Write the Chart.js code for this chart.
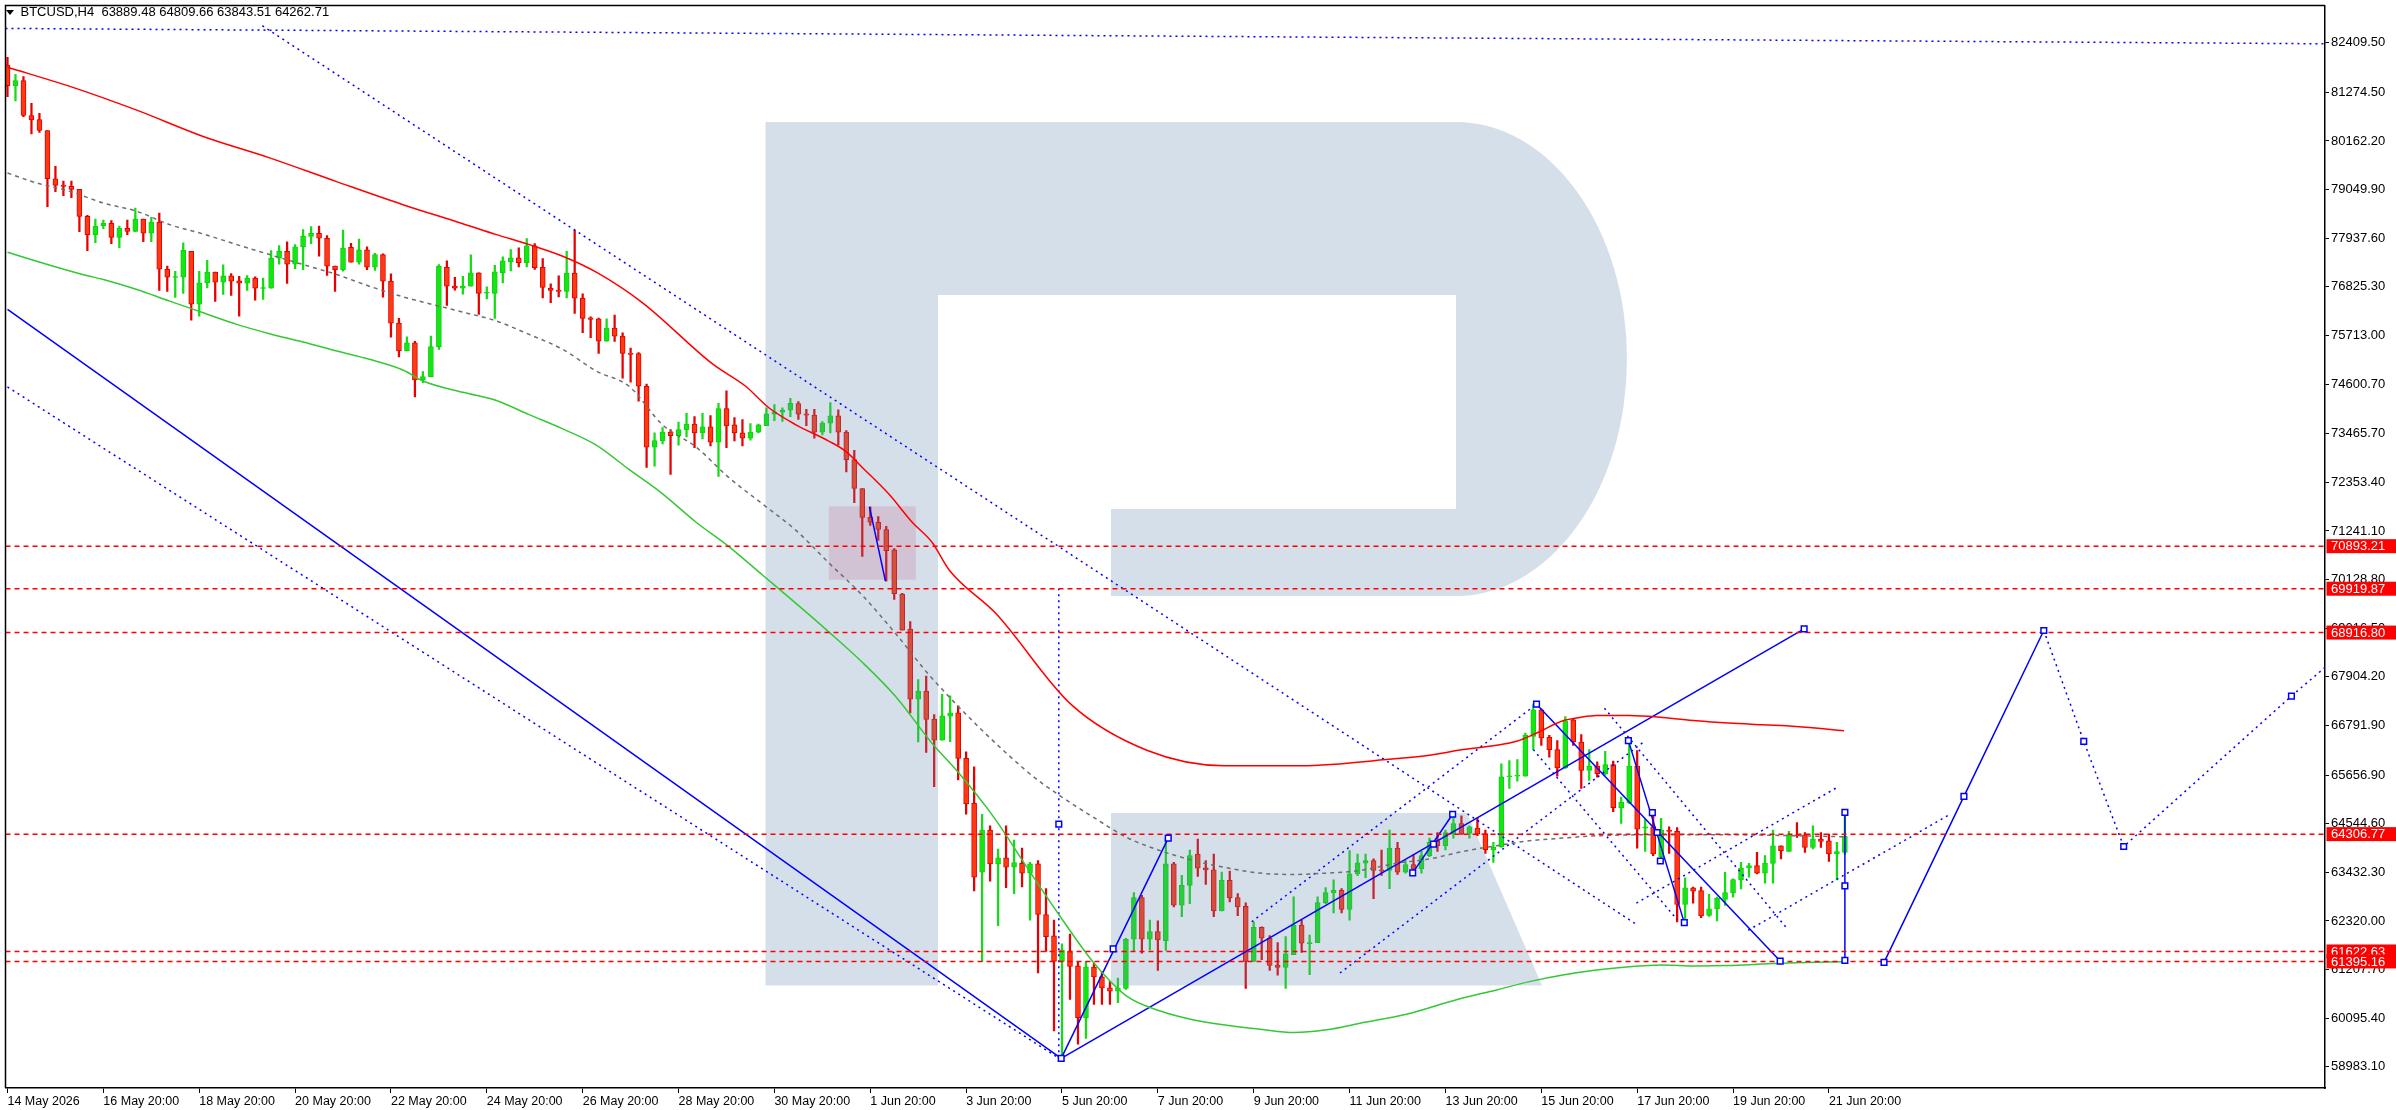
<!DOCTYPE html>
<html>
<head>
<meta charset="utf-8">
<script src="https://cdn.jsdelivr.net/npm/chart.js@4.4.1/dist/chart.umd.min.js"></script>
<style>
html, body { margin: 0; padding: 0; background: #fff; overflow: hidden; }
canvas { display: block; }
</style>
</head>
<body>
<canvas id="grafico_btc" width="2396" height="1110"></canvas>
<script>
// BTCUSD H4 candles, index 0 = 14 May 2026
var opens = [81899,81427,81541,80743,80651,80400,79297,79153,79122,79054,78438,78019,78225,78278,77958,78164,78095,78377,78050,78301,
77228,77038,77045,77639,76429,76916,77160,76931,77076,76962,76909,77023,76787,76794,77479,77639,77342,77738,77981,78050,
77936,77297,77220,77730,77388,77669,77274,77563,76954,75996,75357,75547,74695,74771,75456,77274,76840,76794,76840,77145,
76681,76673,77145,77396,77487,77380,77761,77274,76795,76749,76719,77137,76566,76118,76095,75585,75882,75699,75311,75296,
74551,73159,73298,73502,73419,73558,73688,73484,73623,73270,74041,73669,73484,73363,73502,73651,73911,73957,74004,74152,
73920,73892,73502,73706,73874,73502,72871,72212,71552,71441,71274,70810,69798,68999,67393,67579,66936,66457,67005,67081,
66039,65010,63437,64398,63626,63762,63551,63641,63415,63626,62469,61978,61395,61622,61297,60110,61267,61040,60790,60715,
60775,61902,62855,61902,62076,61872,63626,62681,63135,63853,63536,63490,62552,63248,62855,62658,61395,62174,61925,61312,
61259,61547,62227,61804,61826,62741,62961,63021,62583,63399,63641,63702,63490,63475,63989,63435,63609,63511,63814,64155,
64041,64307,64550,64322,64444,64322,63943,64019,65619,65634,65634,66543,67150,66521,66240,65823,66923,66415,65763,65861,
65687,65899,64913,65027,65861,64444,64474,63791,64398,64368,62700,63079,63018,62449,62601,62813,62964,63260,63533,63586,
63412,63639,64041,63912,64292,64292,64004,64193,64155,63852,63889.48];
var highs = [82074,81686,81633,81024,80796,80400,79579,79244,79244,79054,78460,78377,78354,78339,78217,78354,78628,78377,78415,78514,
77297,77182,77829,77639,77182,77433,77160,77327,77129,77068,77084,77053,77023,77654,77768,77852,77791,78133,78202,78217,
77996,77297,78126,77821,77920,77738,77593,77578,77122,76102,75684,75577,74885,75699,77335,77418,77045,77068,77555,77145,
76825,77319,77510,77677,77715,77928,77814,77472,76893,77076,77639,78118,76665,76140,76110,76095,76178,75775,75425,75320,
74598,73484,73604,73558,73734,73929,73855,73929,73883,74161,74449,73836,73790,73697,73688,74059,74134,74059,74273,74199,
74022,74022,73744,74180,74013,73539,73084,72212,71794,71571,71348,70838,69816,69166,67839,67922,67043,67507,67469,67241,
66190,65848,64761,64496,63967,64496,64171,63989,63664,63702,63059,62341,61796,62023,61395,61395,61357,61168,60941,61017,
61925,62968,62908,62341,62326,64194,63664,63362,63944,64194,63702,63853,63437,63460,62946,62734,62303,62189,61985,61826,
61962,62870,62341,62000,62870,63082,63263,63059,63929,63853,63853,63740,63944,64398,64118,63700,63837,63912,64216,64345,
64398,64800,64724,64497,64671,64398,64117,65914,65990,66013,66619,67279,67173,66566,66445,66998,66945,66581,66240,65960,
66202,65975,65156,66430,66217,64648,64724,64671,64474,64458,63306,63094,63094,62927,62866,63434,63283,63662,63639,63889,
63814,64398,64041,64368,64572,64345,64497,64345,64307,64117,64809.66];
var lows = [81176,81077,80720,80324,80355,78658,79000,78909,78864,78088,77654,77837,78156,77814,77723,78019,78088,77859,77859,76741,
76718,76581,76673,76064,76155,76802,76490,76650,76627,76155,76741,76521,76536,76794,77342,76901,77243,77220,77814,77525,
77084,76718,77182,77388,77342,77220,77198,76589,75676,75220,75357,74307,74634,74771,75395,76399,76749,76658,76840,76194,
76551,76102,76916,77190,77281,77281,77221,76574,76460,76597,76574,76216,75775,75661,75304,75585,75577,74737,74644,74208,
72694,72722,73233,72537,73205,73391,73149,73344,73187,72490,73149,73298,73187,73316,73484,73651,73762,73744,73855,73790,
73651,73363,73437,73484,73205,72592,71887,70661,71367,71023,70095,69677,68971,67077,66418,66177,65392,66457,66419,65544,
64761,63006,61395,63233,62212,63082,62946,63097,62341,61131,61622,59807,59225,60526,59505,59633,60412,60412,60412,60450,
60752,61622,61584,61660,61191,61645,62643,62416,62719,63339,63158,62416,62552,62757,62439,60775,61395,61433,61191,61078,
60775,61547,61600,61093,61826,62719,62507,62507,62341,63354,63309,62832,63362,63059,63384,63412,63488,63412,63791,63912,
63943,64216,64292,64216,64269,63867,63662,64004,65353,65520,65634,66240,66338,66066,65634,65808,66338,65353,65535,65611,
65656,64822,64550,65004,63988,63912,63814,63738,63867,62297,62351,62730,62396,62426,62320,62677,62866,63056,63321,63396,
63184,63184,63738,63912,64231,63889,63966,64004,63685,63260,63843.51];
var closes = [81427,81541,80743,80644,80400,79297,79145,79122,79054,78438,78019,78209,78278,77958,78164,78095,78377,78050,78301,77228,
77045,77053,77662,76429,76916,77160,76931,77076,76954,76909,77023,76794,76802,77479,77639,77342,77738,77981,78050,77936,
77297,77220,77707,77388,77669,77274,77563,76954,75996,75357,75547,74695,74771,75456,77297,76840,76794,76840,77144,76673,
76696,77167,77418,77487,77380,77761,77266,76810,76741,76719,77137,76566,76102,76080,75585,75882,75699,75304,75281,74551,
73159,73307,73502,73419,73558,73688,73484,73623,73270,74041,73641,73484,73363,73502,73669,73920,73966,74004,74161,73911,
73892,73502,73706,73874,73502,72871,72212,71552,71441,71274,70791,69807,68971,67393,67579,66929,66457,67012,67081,66039,
64996,63324,64398,63626,63762,63551,63657,63415,63626,62469,61962,61395,61660,61282,60110,61267,61040,60790,60715,60790,
61902,62855,61902,62076,61887,63626,62681,63135,63815,63528,63490,62552,63248,62847,62643,61395,62174,61925,61305,61259,
61569,62227,61811,61819,62741,62968,63021,62583,63399,63649,63702,63475,63468,63989,63437,63609,63511,63814,64117,64041,
64345,64550,64307,64474,64307,63951,64004,65619,65641,65649,66566,67150,66505,66240,65823,66900,66415,65763,65861,65687,
65899,64913,65042,65861,64420,64474,63852,64398,64368,62700,63079,63003,62434,62601,62843,62972,63268,63533,63586,63412,
63647,64041,63928,64292,64269,64004,64193,64140,63852,63905,64262.71];

// x axis labels, one every 12 candles
var dateLabels = ["14 May 2026","16 May 20:00","18 May 20:00","20 May 20:00","22 May 20:00","24 May 20:00","26 May 20:00",
"28 May 20:00","30 May 20:00","1 Jun 20:00","3 Jun 20:00","5 Jun 20:00","7 Jun 20:00","9 Jun 20:00","11 Jun 20:00",
"13 Jun 20:00","15 Jun 20:00","17 Jun 20:00","19 Jun 20:00","21 Jun 20:00"];
var priceTicks = [82409.50,81274.50,80162.20,79049.90,77937.60,76825.30,75713.00,74600.70,73465.70,72353.40,71241.10,
70128.80,69016.50,67904.20,66791.90,65656.90,64544.60,63432.30,62320.00,61207.70,60095.40,58983.10];
var levels = [70893.21,69919.87,68916.80,64306.77,61622.63,61395.16];

// moving averages [candle index, price]
var maRed = [[0,81846],[7.9,81405],[16.1,80872],[24.5,80264],[32.9,79769],[41.1,79237],[49.5,78704],[57,78270],[61.2,78019],
[65.3,77791],[69.5,77525],[73.7,77160],[79.5,76460],[88.25,75062],[92.4,74551],[95.3,74059],[98.7,73669],[102.8,73298],
[104.9,73066],[107,72694],[110.3,72091],[113.25,71441],[115.75,70977],[117.9,70343],[123.7,69358],[133.2,67263],[142.7,66220],
[152.3,65872],[161.9,65872],[173.9,66035],[178,66111],[182.2,66240],[186.4,66339],[188.9,66430],[191.4,66619],[194.7,66900],
[196.8,66976],[198.9,67021],[203,67021],[207.2,66976],[211.4,66900],[215.5,66847],[219.7,66809],[223.9,66771],[229.9,66672]];
var maGreen = [[0,77616],[5.75,77297],[9.9,77084],[12,76993],[16.2,76764],[20.3,76498],[24.5,76232],[28.7,75966],[32.8,75753],
[37,75563],[41.2,75357],[45.3,75167],[49.5,74923],[52,74672],[57,74412],[61.2,74226],[65.3,73901],[69.5,73576],[73.7,73205],
[77.8,72648],[82,72091],[86.2,71441],[90.3,70884],[94.5,70234],[98.7,69584],[102.8,68934],[107,68238],[111.2,67449],
[115.75,66381],[118.9,65744],[123.5,64685],[127.6,63551],[131.8,62416],[136,61357],[140.1,60601],[144.3,60261],[148.5,60057],
[152.6,59936],[156.8,59845],[161,59769],[165.1,59830],[169.3,59981],[175.1,60185],[181.6,60531],[186.4,60743],[190.5,60933],
[194.7,61084],[198.9,61198],[203,61274],[207.2,61312],[211.4,61289],[215.5,61300],[219.7,61335],[223.9,61365],[229.9,61388]];
var maGray = [[0,79427],[3.7,79198],[7.8,79008],[12,78742],[16.2,78552],[20.3,78248],[24.5,78034],[28.7,77791],[32.8,77563],
[37,77335],[41.2,77107],[45.3,76840],[49.5,76597],[57,76247],[61.2,76042],[65.3,75737],[69.5,75395],[73.7,74900],[77.8,74551],
[82,73669],[86.2,73159],[90.3,72462],[94.5,71859],[98.7,71255],[102.8,70513],[107,69770],[111.2,68888],[115.75,67867],
[127.6,65744],[131.8,65177],[136,64685],[140.1,64231],[144.3,63929],[148.5,63702],[152.6,63536],[156.8,63415],[161,63384],
[165.1,63415],[169.3,63475],[173.9,63640],[178,63738],[182.2,63912],[186.4,64042],[190.5,64155],[194.7,64216],[198.9,64269],
[207.2,64292],[215.5,64292],[223.9,64269],[229.9,64246]];

// drawn objects [candle index, price]
var trendSolid = [
  [[0,76308],[131.9,59179]],
  [[131.9,59179],[145.3,64216]],
  [[131.9,59179],[224.9,69000]],
  [[191.4,67279],[221.9,61403]],
  [[202.9,66445],[209.9,62283]],
  [[230,61418],[230,64805]],
  [[107.9,71794],[109.9,70095]],
  [[175.9,63420],[180.9,64762]],
  [[234.9,61372],[244.9,65169],[254.9,68965]]
];
var trendDotted = [
  [[-0.25,82736],[290.1,82384]],
  [[31.9,82797],[203.9,62243]],
  [[0,74535],[131.9,59150]],
  [[155.75,62303],[191.4,67279]],
  [[166.8,61131],[204.7,66400]],
  [[191,66240],[209,62351]],
  [[199.9,67188],[222.6,62184]],
  [[203.9,62730],[229.1,65383]],
  [[217.9,62108],[243,64744]],
  [[131.6,59179],[131.6,69920]],
  [[254.9,68965],[259.9,66427],[264.9,64024],[285.9,67465],[290.1,68120]]
];
var anchors = [[131.9,59179],[138.4,61683],[145.3,64216],[224.9,69000],[191.4,67279],[221.9,61403],[202.9,66445],
[205.9,64800],[206.5,64345],[206.9,63693],[209.9,62283],[230,64805],[230,63123],[230,61418],[175.9,63420],[178.5,64079],
[180.9,64762],[234.9,61372],[244.9,65169],[254.9,68965],[259.9,66427],[264.9,64024],[285.9,67465],[131.6,64534]];
var boxRange = [[102.8,71804],[113.7,70125]];

function pontos(lista) {
    return lista.map(function (p) { return { x: p[0], y: p[1] }; });
}
function sobe(i) { return closes[i] >= opens[i]; }

var datasets = [];
datasets.push({
    type: 'bar', order: 3, grouped: false, barThickness: 1.6, borderWidth: 0,
    data: opens.map(function (o, i) { return { x: i, y: [lows[i], highs[i]] }; }),
    backgroundColor: opens.map(function (o, i) { return sobe(i) ? '#12dd12' : '#e80000'; })
});
datasets.push({
    type: 'bar', order: 2, grouped: false, barThickness: 5, borderWidth: 1, borderSkipped: false, minBarLength: 1,
    data: opens.map(function (o, i) { return { x: i, y: [o, closes[i]] }; }),
    backgroundColor: opens.map(function (o, i) { return sobe(i) ? '#14e614' : '#ff3a12'; }),
    borderColor: opens.map(function (o, i) { return sobe(i) ? '#10d010' : '#e00000'; })
});

function linha(data, cor, largura, tracejado, extra) {
    var d = {
        type: 'line', order: 1, data: data, borderColor: cor, borderWidth: largura,
        borderDash: tracejado || [], pointRadius: 0, fill: false, tension: 0
    };
    for (var k in extra || {}) d[k] = extra[k];
    return d;
}

levels.forEach(function (lv) {
    datasets.push(linha([{ x: -0.25, y: lv }, { x: 290.1, y: lv }], '#ff0000', 1.5, [5, 4]));
});
datasets.push(linha(pontos(maGray), '#6e6e6e', 1.5, [4, 4], { cubicInterpolationMode: 'monotone' }));
datasets.push(linha(pontos(maRed), '#ff0000', 1.5, [], { cubicInterpolationMode: 'monotone' }));
datasets.push(linha(pontos(maGreen), '#35c835', 1.5, [], { cubicInterpolationMode: 'monotone' }));
trendDotted.forEach(function (t) { datasets.push(linha(pontos(t), '#0000ff', 1.5, [2, 4])); });
trendSolid.forEach(function (t) { datasets.push(linha(pontos(t), '#0000ff', 1.5)); });
datasets.push({
    type: 'line', order: 0, data: pontos(anchors), showLine: false,
    pointStyle: 'rect', pointRadius: 4, pointBackgroundColor: '#ffffff',
    pointBorderColor: '#0000ff', pointBorderWidth: 1.5
});

var fonte = '"Liberation Sans", Arial, sans-serif';

var decoracao = {
    id: 'decoracao',
    beforeDatasetsDraw: function (chart) {
        var c = chart.ctx, x = chart.scales.x, y = chart.scales.y;
        c.save();
        c.fillStyle = 'rgb(250,215,225)';
        var x1 = x.getPixelForValue(boxRange[0][0]), x2 = x.getPixelForValue(boxRange[1][0]);
        var y1 = y.getPixelForValue(boxRange[0][1]), y2 = y.getPixelForValue(boxRange[1][1]);
        c.fillRect(x1, y1, x2 - x1, y2 - y1);
        c.restore();
    },
    afterDatasetDraw: function (chart, args) {
        if (args.index !== 1) return;
        // watermark logo
        var c = chart.ctx, a = chart.chartArea;
        c.save();
        c.beginPath();
        c.rect(a.left, a.top, a.right - a.left, a.bottom - a.top);
        c.clip();
        c.fillStyle = 'rgba(99,137,177,0.27)';
        c.beginPath();
        c.moveTo(765.5, 122);
        c.lineTo(1456, 122);
        c.ellipse(1456, 359, 171, 237, 0, -Math.PI / 2, Math.PI / 2);
        c.lineTo(1111, 596);
        c.lineTo(1111, 509);
        c.lineTo(1456, 509);
        c.lineTo(1456, 295);
        c.lineTo(938, 295);
        c.lineTo(938, 985.5);
        c.lineTo(765.5, 985.5);
        c.closePath();
        c.fill();
        c.beginPath();
        c.moveTo(1111, 813);
        c.lineTo(1467, 813);
        c.lineTo(1542, 985.5);
        c.lineTo(1111, 985.5);
        c.closePath();
        c.fill();
        c.restore();
    },
    afterDraw: function (chart) {
        var c = chart.ctx, a = chart.chartArea, y = chart.scales.y;
        c.save();
        c.strokeStyle = '#000';
        c.lineWidth = 1.5;
        c.beginPath();
        c.moveTo(a.left, a.bottom);
        c.lineTo(a.left, a.top);
        c.lineTo(a.right, a.top);
        c.stroke();
        c.font = '13px ' + fonte;
        c.textBaseline = 'middle';
        levels.forEach(function (lv) {
            var py = y.getPixelForValue(lv);
            c.fillStyle = '#ff0000';
            c.fillRect(a.right + 1.5, py - 7, chart.width - a.right, 14);
            c.fillStyle = '#ffffff';
            c.fillText(lv.toFixed(2), a.right + 6, py + 0.5);
        });
        c.fillStyle = '#000';
        c.beginPath();
        c.moveTo(6, 10);
        c.lineTo(14, 10);
        c.lineTo(10, 15);
        c.closePath();
        c.fill();
        c.fillText('BTCUSD,H4  ' + opens[230].toFixed(2) + ' ' + highs[230].toFixed(2) + ' ' +
            lows[230].toFixed(2) + ' ' + closes[230].toFixed(2), 20.5, 12.5);
        c.restore();
    }
};

var grafico = new Chart(document.getElementById('grafico_btc').getContext('2d'), {
    type: 'bar',
    data: { datasets: datasets },
    options: {
        responsive: false,
        animation: false,
        devicePixelRatio: 1,
        layout: { padding: { left: 2, top: 2, right: 0, bottom: 0 } },
        plugins: { legend: { display: false }, tooltip: { enabled: false } },
        scales: {
            x: {
                type: 'linear', min: -0.25, max: 290.1, offset: false,
                grid: { display: true, drawOnChartArea: false, drawTicks: true, tickLength: 5, color: '#000', offset: false },
                border: { display: true, color: '#000', width: 1.5 },
                afterBuildTicks: function (scale) {
                    scale.ticks = dateLabels.map(function (t, k) { return { value: k * 12 }; });
                },
                afterFit: function (scale) {
                    scale.height = 22;
                    scale.paddingLeft = 0;
                    scale.paddingRight = 0;
                },
                ticks: {
                    autoSkip: false, maxRotation: 0, minRotation: 0, align: 'start', padding: 1,
                    color: '#000', font: { family: fonte, size: 12.5 },
                    callback: function (v) { return dateLabels[Math.round(v / 12)]; }
                }
            },
            y: {
                type: 'linear', position: 'right', min: 58500, max: 83260,
                grid: { display: true, drawOnChartArea: false, drawTicks: true, tickLength: 4, color: '#000' },
                border: { display: true, color: '#000', width: 1.5 },
                afterBuildTicks: function (scale) {
                    scale.ticks = priceTicks.map(function (v) { return { value: v }; });
                },
                afterFit: function (scale) {
                    scale.width = 71;
                    scale.paddingTop = 0;
                    scale.paddingBottom = 0;
                },
                ticks: {
                    autoSkip: false, padding: 2, color: '#000', font: { family: fonte, size: 13 },
                    callback: function (v) { return Number(v).toFixed(2); }
                }
            }
        }
    },
    plugins: [decoracao]
});
</script>
</body>
</html>
